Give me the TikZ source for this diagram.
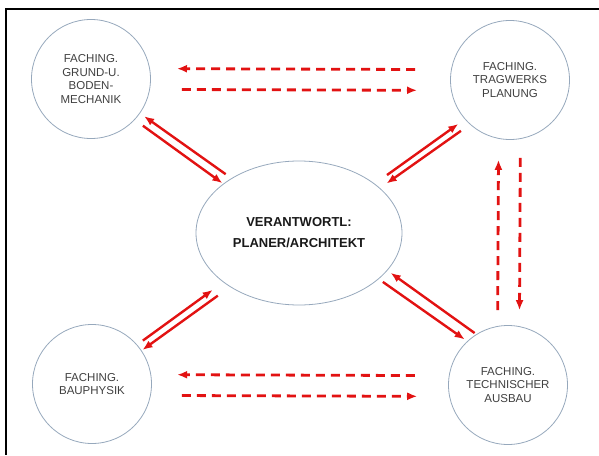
\documentclass[tikz,border=0pt]{standalone}
\usepackage{fontspec}
\setmainfont{Liberation Sans}
\usetikzlibrary{shapes.geometric,arrows.meta}
\definecolor{rot}{RGB}{226,18,18}
\definecolor{rand}{RGB}{150,168,188}
\definecolor{schrift}{RGB}{64,64,64}

\begin{document}
\begin{tikzpicture}[x=1pt,y=-1pt,
  fach/.style={circle,draw=rand,line width=0.8pt,minimum size=119pt,inner sep=0pt,align=center,text=schrift,font=\fontsize{11.5}{13.5}\selectfont},
  planer/.style={ellipse,draw=rand,line width=0.8pt,minimum width=206pt,minimum height=144pt,inner sep=0pt,align=center,text=black!90,font=\bfseries\fontsize{13}{21}\selectfont},
  pfeil/.style={draw=rot,line width=2.4pt,-{Latex[length=10pt,width=8pt]}},
  strich/.style={pfeil,line width=2.8pt,dash pattern=on 9pt off 6pt}]
\useasboundingbox (0,0) rectangle (599,455);
\draw[line width=1.2pt] (599,9) -- (6,9) -- (6,455);

\node[planer] (arch) at (299,233) {VERANTWORTL:\\PLANER/ARCHITEKT};
\node[fach] (boden) at (91,79) {FACHING.\\GRUND-U.\\BODEN-\\MECHANIK};
\node[fach] (trag) at (510,80) {FACHING.\\TRAGWERKS\\PLANUNG};
\node[fach] (bauph) at (92,384) {FACHING.\\BAUPHYSIK};
\node[fach] (tga) at (508,385) {FACHING.\\TECHNISCHER\\AUSBAU};

\draw[pfeil,shorten <=7pt,shorten >=5pt] (arch.141) -- (boden.-35);
\draw[pfeil,shorten <=10pt,shorten >=1pt] (boden.-43) -- (arch.147);
\draw[pfeil,shorten <=15pt,shorten >=8pt] (arch.33) -- (trag.-139);
\draw[pfeil,shorten <=11pt,shorten >=8pt] (trag.-132) -- (arch.29);
\draw[pfeil,shorten <=7pt,shorten >=13pt] (bauph.41) -- (arch.-147);
\draw[pfeil,shorten <=15pt,shorten >=1pt] (arch.-142) -- (bauph.34);
\draw[pfeil,shorten <=2pt,shorten >=4pt] (tga.122) -- (arch.-23);
\draw[pfeil,shorten <=5pt,shorten >=3pt] (arch.-30) -- (tga.133);

\draw[strich,shorten <=36pt,shorten >=27pt] (trag.170) -- (boden.10);
\draw[strich,shorten <=32pt,shorten >=34pt] (boden.-10) -- (trag.-170);
\draw[strich,shorten <=34pt,shorten >=26pt] (tga.171) -- (bauph.9);
\draw[strich,shorten <=31pt,shorten >=32pt] (bauph.-11) -- (tga.-169);
\draw[strich,shorten <=16pt,shorten >=21pt] (tga.100) -- (trag.-101);
\draw[strich,shorten <=19pt,shorten >=16pt] (trag.-80) -- (tga.79);
\end{tikzpicture}
\end{document}
